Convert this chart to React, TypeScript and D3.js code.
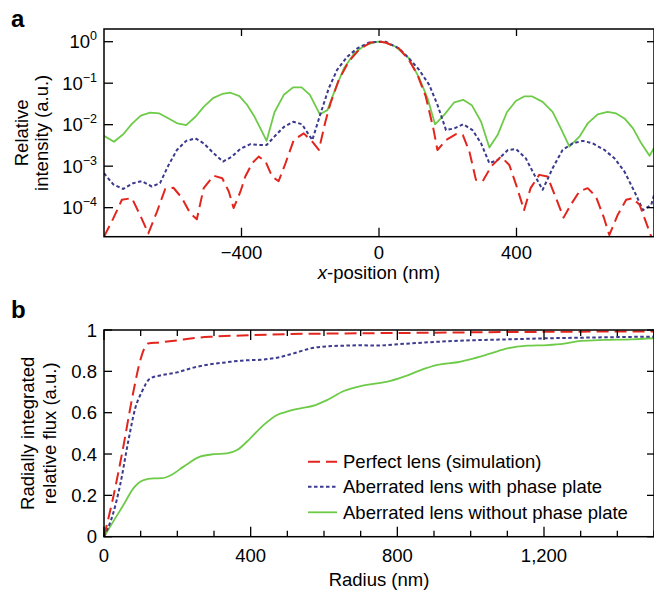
import React, { useEffect, useRef } from "react";
import * as d3 from "d3";

// panel a: relative intensity (log10 values) vs x-position (nm)
const redAX = [-800, -773, -748, -719, -695, -671, -646, -622, -598, -573, -549, -530, -510, -481, -456, -437, -423, -403, -389, -369, -350, -330, -311, -292, -272, -248, -219, -194, -175, -156, -141, -117, -88, -59, -25, 0, 19, 58, 87, 112, 136, 158, 170, 195, 224, 244, 263, 282, 302, 326, 355, 379, 399, 422, 441, 466, 490, 515, 537, 558, 583, 607, 631, 655, 670, 694, 719, 738, 758, 778, 792, 800];
const redALog = [-4.7, -4.26, -3.81, -3.77, -4.18, -4.62, -4.1, -3.55, -3.52, -3.77, -4.14, -4.28, -3.53, -3.23, -3.29, -3.61, -4.01, -3.61, -3.25, -2.93, -2.77, -2.89, -3.25, -3.36, -2.93, -2.37, -2.21, -2.41, -2.61, -1.93, -1.48, -0.92, -0.48, -0.2, -0.02, 0, -0.02, -0.16, -0.44, -0.8, -1.32, -2.09, -2.61, -2.37, -2.23, -2.25, -2.65, -3.33, -3.36, -3.01, -2.77, -2.97, -3.45, -4.06, -3.53, -3.21, -3.25, -3.77, -4.24, -3.93, -3.61, -3.53, -3.73, -4.26, -4.66, -4.18, -3.81, -3.77, -3.93, -4.38, -4.7, -4.75];

const blueAX = [-800, -773, -744, -715, -690, -661, -637, -612, -588, -561, -534, -510, -481, -454, -428, -403, -374, -349, -327, -300, -276, -249, -224, -194, -170, -146, -122, -92, -63, -29, 0, 19, 58, 87, 117, 146, 170, 195, 219, 245, 272, 297, 321, 345, 375, 399, 427, 452, 476, 505, 534, 563, 593, 622, 656, 685, 714, 743, 768, 792, 800];
const blueALog = [-3.17, -3.44, -3.55, -3.41, -3.36, -3.49, -3.41, -2.97, -2.61, -2.39, -2.33, -2.45, -2.69, -2.89, -2.77, -2.58, -2.47, -2.49, -2.49, -2.25, -2.05, -1.93, -1.99, -2.37, -1.73, -1.12, -0.68, -0.36, -0.16, -0.02, 0, 0, -0.16, -0.4, -0.68, -1.04, -1.52, -2.13, -2.09, -1.99, -2.13, -2.45, -2.93, -2.85, -2.61, -2.59, -2.81, -3.21, -3.57, -3.05, -2.61, -2.45, -2.39, -2.45, -2.61, -2.81, -3.13, -3.61, -4.06, -3.93, -3.7];

const greenAX = [-800, -771, -744, -719, -693, -666, -639, -612, -586, -561, -534, -510, -483, -456, -432, -406, -384, -362, -345, -327, -304, -277, -250, -225, -201, -172, -150, -126, -102, -72, -43, -14, 0, 19, 48, 87, 117, 141, 163, 189, 219, 245, 270, 297, 321, 345, 372, 398, 422, 446, 476, 505, 529, 554, 583, 607, 636, 665, 690, 714, 739, 763, 787, 800];
const greenALog = [-2.27, -2.41, -2.23, -1.98, -1.78, -1.71, -1.73, -1.85, -1.97, -2.01, -1.81, -1.57, -1.36, -1.26, -1.23, -1.31, -1.52, -1.81, -2.09, -2.39, -1.7, -1.28, -1.1, -1.1, -1.28, -1.75, -1.65, -1.12, -0.64, -0.28, -0.1, -0.01, 0, -0.02, -0.12, -0.4, -0.88, -1.36, -1.99, -1.77, -1.46, -1.4, -1.53, -1.93, -2.55, -2.25, -1.7, -1.43, -1.32, -1.32, -1.45, -1.69, -2.09, -2.53, -2.29, -1.97, -1.75, -1.69, -1.73, -1.85, -2.09, -2.45, -2.75, -2.56];

const aXTicks = [-400, 0, 400];
const aYTickExps = [0, -1, -2, -3, -4];

// panel b: radially integrated relative flux vs radius (nm)
const redBX = [0, 25, 50, 80, 100, 120, 150, 200, 250, 300, 400, 500, 700, 900, 1100, 1300, 1500];
const redBY = [0, 0.19, 0.41, 0.7, 0.86, 0.935, 0.94, 0.95, 0.962, 0.968, 0.975, 0.98, 0.984, 0.987, 0.99, 0.992, 0.993];

const blueBX = [0, 25, 44, 66, 85, 103, 126, 153, 199, 244, 290, 335, 381, 426, 472, 517, 563, 608, 654, 700, 745, 809, 909, 1000, 1109, 1209, 1309, 1410, 1500];
const blueBY = [0, 0.113, 0.25, 0.46, 0.62, 0.7, 0.766, 0.78, 0.795, 0.818, 0.834, 0.844, 0.853, 0.856, 0.866, 0.887, 0.911, 0.921, 0.924, 0.926, 0.925, 0.932, 0.943, 0.95, 0.955, 0.96, 0.963, 0.966, 0.968];

const greenBX = [0, 25, 53, 80, 108, 135, 158, 185, 217, 262, 299, 335, 363, 399, 435, 472, 499, 536, 572, 608, 654, 700, 745, 773, 818, 864, 909, 964, 1009, 1055, 1100, 1155, 1209, 1255, 1300, 1364, 1437, 1500];
const greenBY = [0, 0.073, 0.153, 0.234, 0.274, 0.282, 0.283, 0.3, 0.339, 0.387, 0.399, 0.403, 0.419, 0.476, 0.54, 0.589, 0.605, 0.621, 0.634, 0.661, 0.705, 0.729, 0.742, 0.75, 0.774, 0.806, 0.831, 0.844, 0.863, 0.887, 0.911, 0.924, 0.927, 0.934, 0.947, 0.952, 0.955, 0.96];

const bXMajor = [0, 400, 800, 1200];
const bXLabels = ["0", "400", "800", "1,200"];
const bYTicks = [0, 0.2, 0.4, 0.6, 0.8, 1];
const bYLabels = ["0", "0.2", "0.4", "0.6", "0.8", "1"];

const legendLabels = [
  "Perfect lens (simulation)",
  "Aberrated lens with phase plate",
  "Aberrated lens without phase plate",
];

const RED = "#e2251d";
const BLUE = "#3b3a8e";
const GREEN = "#6dcb48";
const FONT = "'Liberation Sans', Arial, Helvetica, sans-serif";
const FS = 18.5;

const styles = [
  { color: RED, dash: "12,6", width: 2 },
  { color: BLUE, dash: "3.5,2.5", width: 2 },
  { color: GREEN, dash: null, width: 1.8 },
];

function App() {
  const canvas = useRef<SVGSVGElement>(null);

  useEffect(() => {
    const svg = d3.select(canvas.current);
    svg.selectAll("*").remove();

    // ---------- panel a ----------
    const aLeft = 104, aRight = 654, aTop = 29, aBottom = 236.7;
    const xA = d3.scaleLinear().domain([-800, 800]).range([aLeft, aRight]);
    const yA = d3.scaleLog().domain([Math.pow(10, -4.7), Math.pow(10, 0.306)]).range([aBottom, aTop]);

    svg.append("clipPath").attr("id", "clipA")
      .append("rect").attr("x", aLeft).attr("y", aTop)
      .attr("width", aRight - aLeft).attr("height", aBottom - aTop);

    const lineA = d3.line<[number, number]>()
      .x((d) => xA(d[0]))
      .y((d) => yA(Math.pow(10, d[1])));

    const aSeries = [
      d3.zip(greenAX, greenALog),
      d3.zip(blueAX, blueALog),
      d3.zip(redAX, redALog),
    ];
    const aStyles = [styles[2], styles[1], styles[0]];
    const ga = svg.append("g").attr("clip-path", "url(#clipA)");
    aSeries.forEach((s, i) => {
      ga.append("path")
        .datum(s as [number, number][])
        .attr("d", lineA)
        .attr("fill", "none")
        .attr("stroke", aStyles[i].color)
        .attr("stroke-width", aStyles[i].width)
        .attr("stroke-dasharray", aStyles[i].dash)
        .attr("stroke-linejoin", "round");
    });

    svg.append("rect")
      .attr("x", aLeft).attr("y", aTop)
      .attr("width", aRight - aLeft).attr("height", aBottom - aTop)
      .attr("fill", "none").attr("stroke", "#000").attr("stroke-width", 1.5);

    aXTicks.forEach((t) => {
      const x = xA(t);
      svg.append("line").attr("x1", x).attr("x2", x).attr("y1", aBottom).attr("y2", aBottom - 9)
        .attr("stroke", "#000").attr("stroke-width", 1.3);
      svg.append("line").attr("x1", x).attr("x2", x).attr("y1", aTop).attr("y2", aTop + 7)
        .attr("stroke", "#000").attr("stroke-width", 1.3);
      svg.append("text").attr("x", x).attr("y", 259).attr("text-anchor", "middle")
        .attr("font-size", FS).attr("font-family", FONT)
        .text(t < 0 ? "\u2212" + Math.abs(t) : String(t));
    });

    aYTickExps.forEach((e) => {
      const y = yA(Math.pow(10, e));
      svg.append("line").attr("x1", aLeft).attr("x2", aLeft + 9).attr("y1", y).attr("y2", y)
        .attr("stroke", "#000").attr("stroke-width", 1.3);
      svg.append("line").attr("x1", aRight).attr("x2", aRight - 7).attr("y1", y).attr("y2", y)
        .attr("stroke", "#000").attr("stroke-width", 1.3);
      const txt = svg.append("text").attr("x", 97).attr("y", y + 6.5).attr("text-anchor", "end")
        .attr("font-size", FS).attr("font-family", FONT);
      txt.append("tspan").text("10");
      txt.append("tspan").attr("dy", -8).attr("font-size", 12.5)
        .text(e < 0 ? "\u2212" + Math.abs(e) : String(e));
    });

    const xLab = svg.append("text").attr("x", xA(0)).attr("y", 279).attr("text-anchor", "middle")
      .attr("font-size", FS).attr("font-family", FONT);
    xLab.append("tspan").attr("font-style", "italic").text("x");
    xLab.append("tspan").text("-position (nm)");

    const aMid = (aTop + aBottom) / 2;
    svg.append("text").attr("transform", `translate(28,${aMid}) rotate(-90)`)
      .attr("text-anchor", "middle").attr("font-size", FS).attr("font-family", FONT).text("Relative");
    svg.append("text").attr("transform", `translate(48,${aMid}) rotate(-90)`)
      .attr("text-anchor", "middle").attr("font-size", FS).attr("font-family", FONT).text("intensity (a.u.)");

    svg.append("text").attr("x", 11).attr("y", 27).attr("font-size", 24)
      .attr("font-weight", "bold").attr("font-family", FONT).text("a");

    // ---------- panel b ----------
    const bLeft = 104, bRight = 654, bTop = 330, bBottom = 536.7;
    const xB = d3.scaleLinear().domain([0, 1500]).range([bLeft, bRight]);
    const yB = d3.scaleLinear().domain([0, 1]).range([bBottom, bTop]);

    const lineB = d3.line<[number, number]>()
      .x((d) => xB(d[0]))
      .y((d) => yB(d[1]))
      .curve(d3.curveMonotoneX);

    const bSeries = [
      d3.zip(greenBX, greenBY),
      d3.zip(blueBX, blueBY),
      d3.zip(redBX, redBY),
    ];
    bSeries.forEach((s, i) => {
      svg.append("path")
        .datum(s as [number, number][])
        .attr("d", lineB)
        .attr("fill", "none")
        .attr("stroke", aStyles[i].color)
        .attr("stroke-width", aStyles[i].width)
        .attr("stroke-dasharray", aStyles[i].dash);
    });

    svg.append("rect")
      .attr("x", bLeft).attr("y", bTop)
      .attr("width", bRight - bLeft).attr("height", bBottom - bTop)
      .attr("fill", "none").attr("stroke", "#000").attr("stroke-width", 1.5);

    xB.ticks(15).forEach((t) => {
      const x = xB(t);
      const major = t % 400 === 0;
      const len = major ? 10 : 6;
      svg.append("line").attr("x1", x).attr("x2", x).attr("y1", bBottom).attr("y2", bBottom - len)
        .attr("stroke", "#000").attr("stroke-width", 1.3);
      svg.append("line").attr("x1", x).attr("x2", x).attr("y1", bTop).attr("y2", bTop + len)
        .attr("stroke", "#000").attr("stroke-width", 1.3);
    });
    bXMajor.forEach((t, i) => {
      svg.append("text").attr("x", xB(t)).attr("y", 562).attr("text-anchor", "middle")
        .attr("font-size", FS).attr("font-family", FONT).text(bXLabels[i]);
    });

    bYTicks.forEach((t, i) => {
      const y = yB(t);
      svg.append("line").attr("x1", bLeft).attr("x2", bLeft + 8).attr("y1", y).attr("y2", y)
        .attr("stroke", "#000").attr("stroke-width", 1.3);
      svg.append("line").attr("x1", bRight).attr("x2", bRight - 7).attr("y1", y).attr("y2", y)
        .attr("stroke", "#000").attr("stroke-width", 1.3);
      svg.append("text").attr("x", 97).attr("y", y + 6.5).attr("text-anchor", "end")
        .attr("font-size", FS).attr("font-family", FONT).text(bYLabels[i]);
    });

    svg.append("text").attr("x", (bLeft + bRight) / 2).attr("y", 586).attr("text-anchor", "middle")
      .attr("font-size", FS).attr("font-family", FONT).text("Radius (nm)");

    const bMid = (bTop + bBottom) / 2;
    svg.append("text").attr("transform", `translate(34,${bMid}) rotate(-90)`)
      .attr("text-anchor", "middle").attr("font-size", FS).attr("font-family", FONT).text("Radially integrated");
    svg.append("text").attr("transform", `translate(56,${bMid}) rotate(-90)`)
      .attr("text-anchor", "middle").attr("font-size", FS).attr("font-family", FONT).text("relative flux (a.u.)");

    svg.append("text").attr("x", 11).attr("y", 318).attr("font-size", 24)
      .attr("font-weight", "bold").attr("font-family", FONT).text("b");

    // legend
    const legY = [461.7, 486.7, 512.3];
    legendLabels.forEach((lab, i) => {
      svg.append("line").attr("x1", 308).attr("x2", 337).attr("y1", legY[i]).attr("y2", legY[i])
        .attr("stroke", styles[i].color).attr("stroke-width", styles[i].width)
        .attr("stroke-dasharray", styles[i].dash);
      svg.append("text").attr("x", 343).attr("y", legY[i] + 6.5)
        .attr("font-size", FS).attr("font-family", FONT).text(lab);
    });
  }, []);

  return (
    <div style={{ position: "absolute", left: 0, top: 0 }}>
      <svg ref={canvas} width={654} height={591} style={{ display: "block", background: "#fff" }} />
    </div>
  );
}

export default App;
